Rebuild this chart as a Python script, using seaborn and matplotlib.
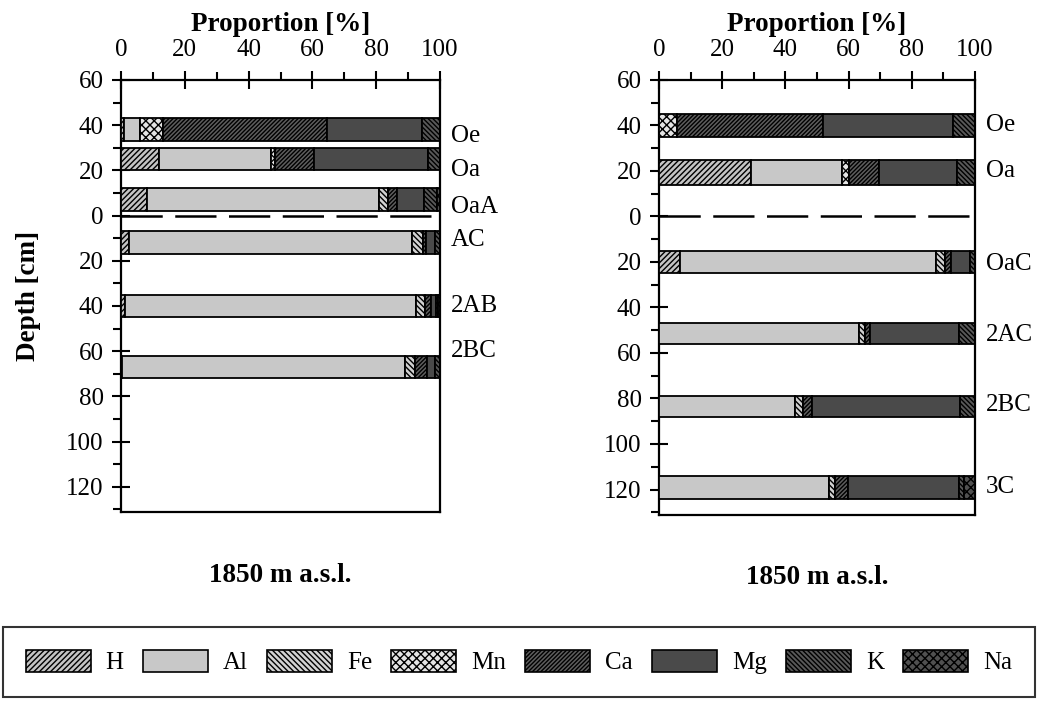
import numpy as np
import pandas as pd
import matplotlib
matplotlib.use("Agg")
import matplotlib.pyplot as plt
from matplotlib.patches import Patch
import seaborn as sns

# =====================================================================
# DATA (proportion of exchangeable cations, %)
# =====================================================================
ELEMENTS = ["H", "Al", "Fe", "Mn", "Ca", "Mg", "K", "Na"]

# left profile
left_horizons = ["Oe", "Oa", "OaA", "AC", "2AB", "2BC"]
left_top = [-43, -30, -12, 7, 35, 62]
left_bottom = [-33, -20, -2, 17, 45, 72]
left_label_y = [-35, -20, -4, 11, 40, 60]
left_H = [1.0, 12.0, 8.2, 2.6, 1.3, 0.3]
left_Al = [4.9, 34.9, 72.8, 88.5, 91.2, 88.7]
left_Fe = [0.0, 0.0, 2.6, 3.7, 2.8, 3.1]
left_Mn = [7.4, 1.5, 0.0, 0.0, 0.0, 0.0]
left_Ca = [51.2, 12.0, 2.8, 0.8, 1.8, 3.9]
left_Mg = [30.0, 35.9, 8.6, 2.8, 1.7, 2.4]
left_K = [5.4, 3.7, 4.0, 1.6, 0.7, 1.6]
left_Na = [0.1, 0.0, 1.0, 0.0, 0.5, 0.0]

# right profile
right_horizons = ["Oe", "Oa", "OaC", "2AC", "2BC", "3C"]
right_top = [-45, -25, 15, 47, 79, 114]
right_bottom = [-35, -14, 25, 56, 88, 124]
right_label_y = [-40, -20, 21, 52, 83, 119]
right_H = [0.0, 29.1, 6.6, 0.0, 0.0, 0.0]
right_Al = [0.0, 28.8, 81.0, 63.2, 43.2, 53.8]
right_Fe = [0.0, 0.0, 2.9, 2.1, 2.3, 1.9]
right_Mn = [5.8, 2.3, 0.0, 0.0, 0.0, 0.0]
right_Ca = [46.1, 9.3, 1.9, 1.5, 3.0, 4.2]
right_Mg = [41.2, 24.8, 6.1, 28.2, 46.7, 35.0]
right_K = [6.9, 5.6, 1.6, 5.0, 4.8, 1.5]
right_Na = [0.0, 0.0, 0.0, 0.0, 0.0, 3.6]

site_title = "1850 m a.s.l."
depth_ticks = [-60, -40, -20, 0, 20, 40, 60, 80, 100, 120]
prop_ticks = [0, 20, 40, 60, 80, 100]

# styles per element
FACE = {"H": "#c4c4c4", "Al": "#c8c8c8", "Fe": "#d2d2d2", "Mn": "#e4e4e4",
        "Ca": "#5e5e5e", "Mg": "#4a4a4a", "K": "#585858", "Na": "#505050"}
HATCH = {"H": "//////", "Al": None, "Fe": "\\" * 6, "Mn": "xxxx",
         "Ca": "/" * 8, "Mg": None, "K": "\\" * 7, "Na": "xxxx"}

sns.set_theme(style="ticks")
plt.rcParams["font.family"] = ["Liberation Serif", "DejaVu Serif"]
plt.rcParams["hatch.linewidth"] = 1.0
plt.rcParams["axes.linewidth"] = 1.6
plt.rcParams["text.color"] = "black"
plt.rcParams["axes.labelcolor"] = "black"
plt.rcParams["xtick.color"] = "black"
plt.rcParams["ytick.color"] = "black"

FS = 18      # tick labels / horizon names
FSB = 19.5   # bold titles


def build_df(horizons, top, bottom, vals):
    df = pd.DataFrame({"horizon": horizons, "top": top, "bottom": bottom})
    for el, v in zip(ELEMENTS, vals):
        df[el] = v
    df["center"] = (df["top"] + df["bottom"]) / 2
    df["thick"] = df["bottom"] - df["top"]
    return df


left_df = build_df(left_horizons, left_top, left_bottom,
                   [left_H, left_Al, left_Fe, left_Mn, left_Ca, left_Mg, left_K, left_Na])
right_df = build_df(right_horizons, right_top, right_bottom,
                    [right_H, right_Al, right_Fe, right_Mn, right_Ca, right_Mg, right_K, right_Na])


def draw_profile(ax, df, label_y, ylabel=True):
    cum = np.zeros(len(df))
    for el in ELEMENTS:
        ax.barh(df["center"], df[el], height=df["thick"], left=cum,
                color=FACE[el], edgecolor="black", linewidth=1.3,
                hatch=HATCH[el], zorder=3)
        cum = cum + df[el].values
    ax.hlines(0, 0, 100, colors="black", linewidth=1.8,
              linestyles=(0, (16.5, 5)), zorder=2)
    ax.set_xlim(0, 100)
    ax.set_ylim(131, -60)
    ax.xaxis.tick_top()
    ax.xaxis.set_label_position("top")
    ax.set_xticks(prop_ticks)
    ax.set_xticks(np.arange(10, 100, 20), minor=True)
    ax.set_yticks(depth_ticks)
    ax.set_yticklabels([str(abs(t)) for t in depth_ticks])
    ax.set_yticks(np.arange(-50, 131, 20), minor=True)
    ax.tick_params(which="major", direction="inout", length=13, width=1.5,
                   labelsize=FS, pad=6, colors="black")
    ax.tick_params(axis="x", which="major", pad=7)
    ax.tick_params(which="minor", direction="out", length=6, width=1.5)
    ax.tick_params(axis="x", which="both", top=True, bottom=False)
    ax.set_xlabel("Proportion [%]", fontsize=FSB, fontweight="bold", labelpad=6)
    if ylabel:
        ax.set_ylabel("Depth [cm]", fontsize=FSB, fontweight="bold", labelpad=18)
    for sp in ax.spines.values():
        sp.set_visible(True)
        sp.set_color("black")
    for name, y in zip(df["horizon"], label_y):
        ax.text(1.035, y, name, transform=ax.get_yaxis_transform(),
                fontsize=FS, va="center", ha="left")


fig = plt.figure(figsize=(10.39, 7.01), dpi=100)
ax1 = fig.add_axes([0.1165, 0.270, 0.307, 0.616])
ax2 = fig.add_axes([0.6343, 0.266, 0.304, 0.620])
draw_profile(ax1, left_df, left_label_y, ylabel=True)
draw_profile(ax2, right_df, right_label_y, ylabel=False)

fig.text(280 / 1039, 1 - 575 / 701, site_title, fontsize=FSB,
         fontweight="bold", ha="center", va="center")
fig.text(817 / 1039, 1 - 578 / 701, site_title, fontsize=FSB,
         fontweight="bold", ha="center", va="center")

handles = [Patch(facecolor=FACE[el], edgecolor="black", hatch=HATCH[el],
                 linewidth=1.2) for el in ELEMENTS]
leg = fig.legend(handles, ELEMENTS, ncol=8, loc="lower left",
                 bbox_to_anchor=(0.003, 0.006, 0.993, 0.098), mode="expand",
                 fontsize=FS, handlelength=2.6, handleheight=1.0,
                 borderpad=0.9, borderaxespad=0, frameon=True, fancybox=False,
                 edgecolor="black", handletextpad=0.6, columnspacing=1.0)
leg.get_frame().set_linewidth(1.5)

fig.savefig("out.png", dpi=100)
